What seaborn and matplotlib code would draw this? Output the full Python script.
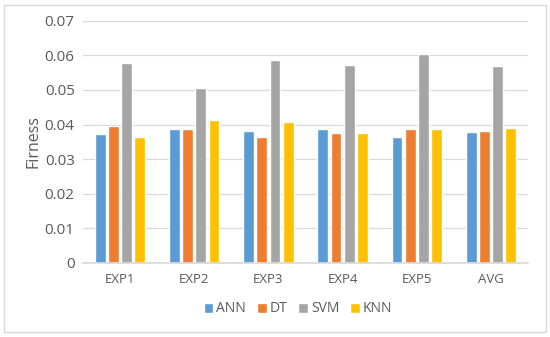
import matplotlib
matplotlib.use("Agg")
import matplotlib.pyplot as plt
import seaborn as sns
import pandas as pd
from matplotlib.patches import Rectangle

categories = ["EXP1", "EXP2", "EXP3", "EXP4", "EXP5", "AVG"]
ann = [0.0374, 0.0387, 0.0382, 0.0387, 0.0364, 0.0379]
dt = [0.0396, 0.0387, 0.0364, 0.0375, 0.0387, 0.0381]
svm = [0.0579, 0.0507, 0.0587, 0.0572, 0.0605, 0.0570]
knn = [0.0364, 0.0413, 0.0408, 0.0375, 0.0387, 0.0390]
series = {"ANN": ann, "DT": dt, "SVM": svm, "KNN": knn}
colors = ["#5B9BD5", "#ED7D31", "#A5A5A5", "#FFC000"]

rows = []
for name, vals in series.items():
    for c, v in zip(categories, vals):
        rows.append({"cat": c, "model": name, "val": v})
df = pd.DataFrame(rows)

sns.set_theme(style="white")
plt.rcParams["font.family"] = ["Open Sans", "DejaVu Sans"]

fig = plt.figure(figsize=(5.5, 3.37), dpi=100)
ax = fig.add_axes([83/550, 1 - 263/337, (528-83)/550, (263-20.7)/337])

sns.barplot(data=df, x="cat", y="val", hue="model", palette=colors,
            width=0.71, gap=0.17, ax=ax, saturation=1, legend=True)

ax.set_ylim(0, 0.07)
ax.set_yticks([0, 0.01, 0.02, 0.03, 0.04, 0.05, 0.06, 0.07])
ax.set_yticklabels(["0", "0.01", "0.02", "0.03", "0.04", "0.05", "0.06", "0.07"])
ax.set_xlim(-0.5, 5.5)
ax.yaxis.grid(True, color="#D9D9D9", linewidth=0.9)
ax.set_axisbelow(True)
for s in ["left", "right", "top"]:
    ax.spines[s].set_visible(False)
ax.spines["bottom"].set_color("#D9D9D9")
ax.tick_params(axis="y", length=0, labelsize=11, labelcolor="#595959", pad=6)
ax.tick_params(axis="x", length=0, labelsize=9.5, labelcolor="#595959", pad=7)
ax.set_xlabel("")
ax.set_ylabel("Firness", fontsize=11.5, color="#595959", labelpad=2)

handles, labels = ax.get_legend_handles_labels()
ax.legend_.remove()
fig.legend(handles, labels, loc="center", bbox_to_anchor=(298/550, 1 - 309/337),
           ncol=4, frameon=False, fontsize=10, handlelength=0.7, handleheight=0.7,
           handletextpad=0.2, columnspacing=0.8, labelcolor="#595959")

fig.patches.append(Rectangle((4/550, 5/337), 542/550, 327/337, transform=fig.transFigure,
                             fill=False, edgecolor="#D9D9D9", linewidth=1))

fig.savefig("out.png", dpi=100)
